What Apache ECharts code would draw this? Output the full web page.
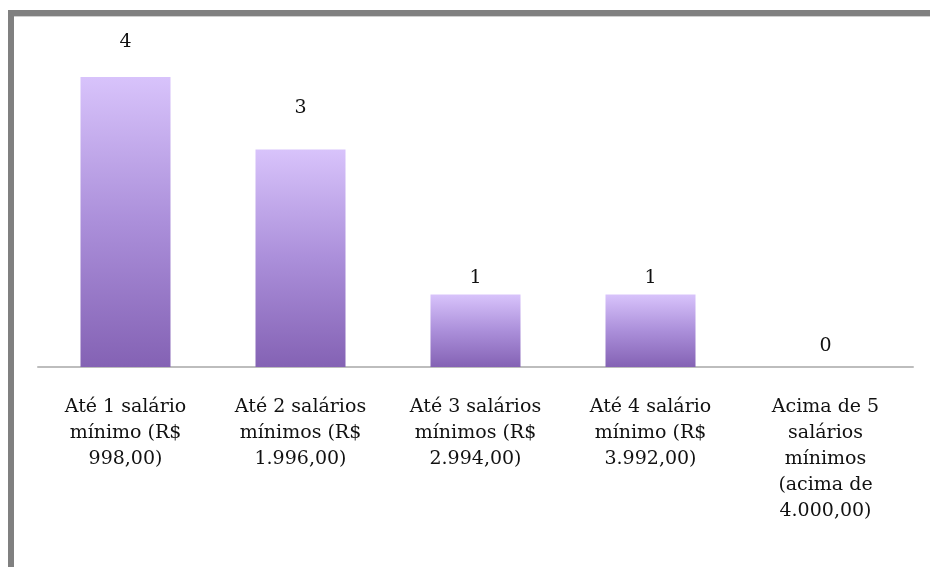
<!DOCTYPE html>
<html>
<head>
<meta charset="utf-8">
<script src="https://cdn.jsdelivr.net/npm/echarts@6/dist/echarts.min.js"></script>
<style>html,body{margin:0;padding:0;background:#fff}#c{width:930px;height:567px}</style>
</head>
<body>
<div id="c"></div>
<script>
var categories = [
  "Até 1 salário\nmínimo (R$\n998,00)",
  "Até 2 salários\nmínimos (R$\n1.996,00)",
  "Até 3 salários\nmínimos (R$\n2.994,00)",
  "Até 4 salário\nmínimo (R$\n3.992,00)",
  "Acima de 5\nsalários\nmínimos\n(acima de\n4.000,00)"
];
var values = [4, 3, 1, 1, 0];

// style: per-bar label gaps as placed in the original
var labelGaps = [25, 32, 7, 7, 11];

var chart = echarts.init(document.getElementById('c'));
chart.setOption({
  animation: false,
  backgroundColor: '#ffffff',
  grid: { left: 38, right: 17, top: 77, bottom: 200 },
  xAxis: {
    type: 'category',
    data: categories,
    axisLine: { lineStyle: { color: '#bdbdbd', width: 2 } },
    axisTick: { show: false },
    axisLabel: {
      interval: 0,
      margin: 27,
      fontFamily: 'DejaVu Serif',
      fontSize: 19,
      lineHeight: 26,
      color: '#111'
    }
  },
  yAxis: {
    type: 'value', min: 0, max: 4,
    show: false,
    splitLine: { show: false }
  },
  series: [{
    type: 'bar',
    barWidth: 90,
    data: values.map(function (v, i) {
      return { value: v, label: { distance: labelGaps[i] } };
    }),
    itemStyle: {
      color: {
        type: 'linear', x: 0, y: 0, x2: 0, y2: 1,
        colorStops: [
          { offset: 0, color: '#d8c3fb' },
          { offset: 0.5, color: '#ab8fda' },
          { offset: 1, color: '#8462b4' }
        ]
      },
      borderWidth: 0
    },
    label: {
      show: true,
      position: 'top',
      fontFamily: 'DejaVu Serif',
      fontSize: 19,
      color: '#111'
    }
  }],
  graphic: [
    { type: 'rect', shape: { x: 8, y: 10, width: 922, height: 6 }, style: { fill: '#808080' } },
    { type: 'rect', shape: { x: 8, y: 10, width: 6, height: 557 }, style: { fill: '#808080' } },
    { type: 'rect', shape: { x: 14, y: 16, width: 916, height: 1 }, style: { fill: '#cfcfcf' } }
  ]
});
</script>
</body>
</html>
